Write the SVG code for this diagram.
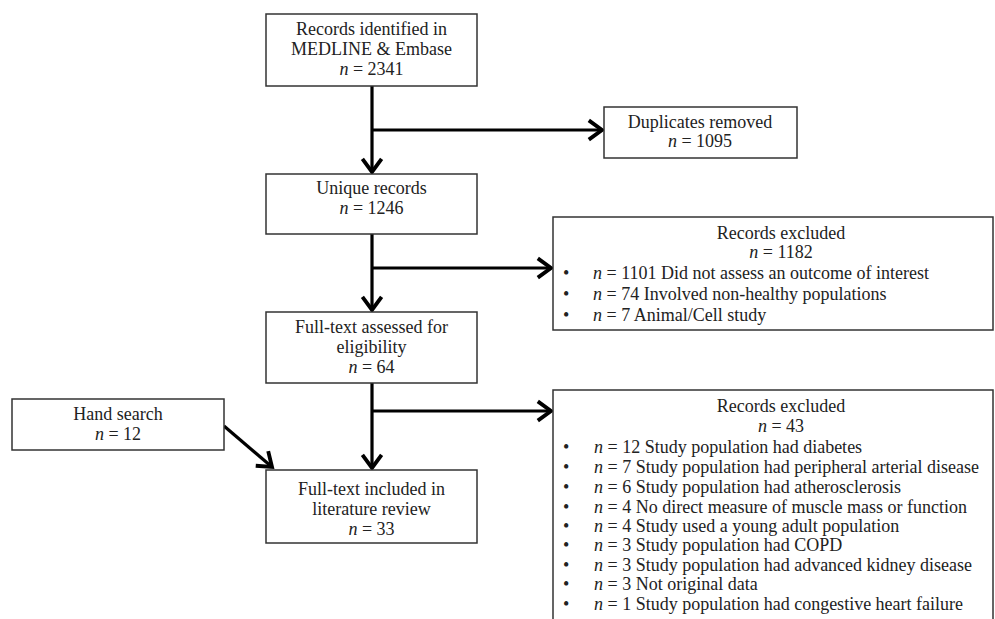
<svg xmlns="http://www.w3.org/2000/svg" width="995" height="619" viewBox="0 0 995 619">
<defs>
<style>
.box{fill:#fff;stroke:#333;stroke-width:1.5}
text{font-family:"Liberation Serif","Times New Roman",serif;font-size:18px;fill:#222}
.c{text-anchor:middle}
.i{font-style:italic}
.ln{stroke:#000;stroke-width:3.2;fill:none}
</style>
<marker id="ah" markerUnits="userSpaceOnUse" markerWidth="24" markerHeight="24" viewBox="-14 -10 16 20" refX="0" refY="0" orient="auto">
<path d="M-11,-8 L0,0 L-11,8" fill="none" stroke="#000" stroke-width="3.2"/>
</marker>
</defs>
<rect width="995" height="619" fill="#fff"/>
<g id="connectors">
<line class="ln" x1="372" y1="86" x2="372" y2="172" marker-end="url(#ah)"/>
<line class="ln" x1="372" y1="130" x2="602" y2="130" marker-end="url(#ah)"/>
<line class="ln" x1="372" y1="234" x2="372" y2="310" marker-end="url(#ah)"/>
<line class="ln" x1="372" y1="268" x2="551" y2="268" marker-end="url(#ah)"/>
<line class="ln" x1="372" y1="383" x2="372" y2="468" marker-end="url(#ah)"/>
<line class="ln" x1="372" y1="411" x2="551" y2="411" marker-end="url(#ah)"/>
<line class="ln" x1="224" y1="426" x2="272" y2="467" marker-end="url(#ah)"/>
</g>
<g id="identified">
<rect class="box" x="266" y="14" width="211" height="72"/>
<text class="c" x="371.5" y="35">Records identified in</text>
<text class="c" x="371.5" y="55">MEDLINE &amp; Embase</text>
<text class="c" x="371.5" y="75"><tspan class="i">n</tspan> = 2341</text>
</g>
<g id="duplicates">
<rect class="box" x="604" y="107" width="193" height="51"/>
<text class="c" x="700" y="128">Duplicates removed</text>
<text class="c" x="700" y="147"><tspan class="i">n</tspan> = 1095</text>
</g>
<g id="unique">
<rect class="box" x="266" y="174" width="211" height="60"/>
<text class="c" x="371.5" y="194">Unique records</text>
<text class="c" x="371.5" y="214"><tspan class="i">n</tspan> = 1246</text>
</g>
<g id="excluded1">
<rect class="box" x="553" y="217" width="440" height="113"/>
<text class="c" x="781" y="239">Records excluded</text>
<text class="c" x="781" y="258"><tspan class="i">n</tspan> = 1182</text>
<text x="563" y="279">•</text><text x="593" y="279"><tspan class="i">n</tspan> = 1101 Did not assess an outcome of interest</text>
<text x="563" y="300">•</text><text x="593" y="300"><tspan class="i">n</tspan> = 74 Involved non-healthy populations</text>
<text x="563" y="321">•</text><text x="593" y="321"><tspan class="i">n</tspan> = 7 Animal/Cell study</text>
</g>
<g id="assessed">
<rect class="box" x="266" y="312" width="211" height="71"/>
<text class="c" x="371.5" y="333">Full-text assessed for</text>
<text class="c" x="371.5" y="353">eligibility</text>
<text class="c" x="371.5" y="373"><tspan class="i">n</tspan> = 64</text>
</g>
<g id="handsearch">
<rect class="box" x="12" y="399" width="212" height="51"/>
<text class="c" x="118" y="420">Hand search</text>
<text class="c" x="118" y="440"><tspan class="i">n</tspan> = 12</text>
</g>
<g id="included">
<rect class="box" x="266" y="470" width="211" height="73"/>
<text class="c" x="371.5" y="495">Full-text included in</text>
<text class="c" x="371.5" y="515">literature review</text>
<text class="c" x="371.5" y="535"><tspan class="i">n</tspan> = 33</text>
</g>
<g id="excluded2">
<rect class="box" x="553" y="390" width="440" height="240"/>
<text class="c" x="781" y="412">Records excluded</text>
<text class="c" x="781" y="432"><tspan class="i">n</tspan> = 43</text>
<text x="563" y="453">•</text><text x="594" y="453"><tspan class="i">n</tspan> = 12 Study population had diabetes</text>
<text x="563" y="473">•</text><text x="594" y="473"><tspan class="i">n</tspan> = 7 Study population had peripheral arterial disease</text>
<text x="563" y="493">•</text><text x="594" y="493"><tspan class="i">n</tspan> = 6 Study population had atherosclerosis</text>
<text x="563" y="513">•</text><text x="594" y="513"><tspan class="i">n</tspan> = 4 No direct measure of muscle mass or function</text>
<text x="563" y="532">•</text><text x="594" y="532"><tspan class="i">n</tspan> = 4 Study used a young adult population</text>
<text x="563" y="551">•</text><text x="594" y="551"><tspan class="i">n</tspan> = 3 Study population had COPD</text>
<text x="563" y="571">•</text><text x="594" y="571"><tspan class="i">n</tspan> = 3 Study population had advanced kidney disease</text>
<text x="563" y="590">•</text><text x="594" y="590"><tspan class="i">n</tspan> = 3 Not original data</text>
<text x="563" y="610">•</text><text x="594" y="610"><tspan class="i">n</tspan> = 1 Study population had congestive heart failure</text>
</g>
</svg>
